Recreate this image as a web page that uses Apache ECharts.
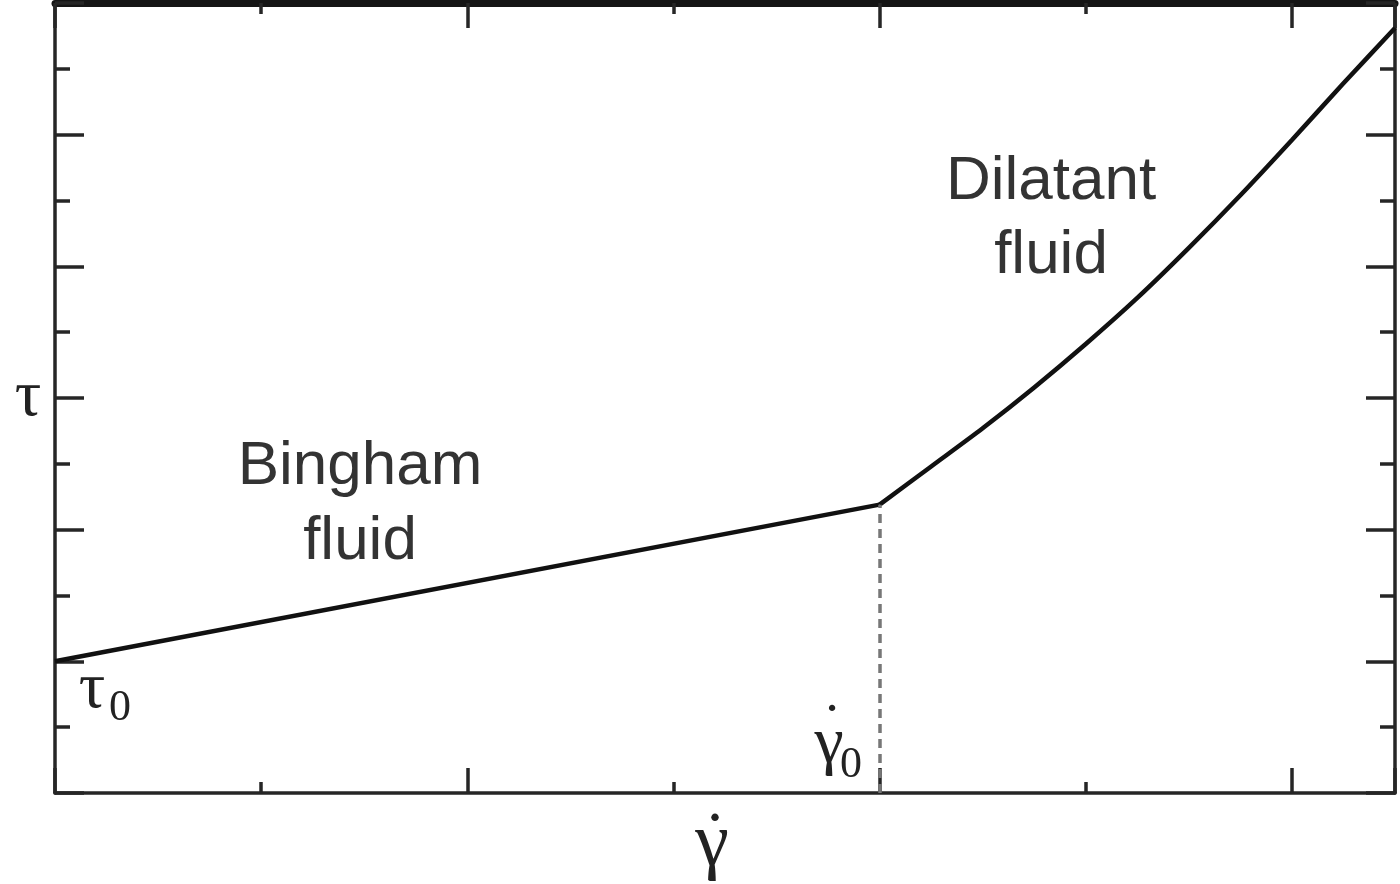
<!DOCTYPE html>
<html>
<head>
<meta charset="utf-8">
<script src="https://cdn.jsdelivr.net/npm/echarts@6/dist/echarts.min.js"></script>
<style>
  html, body { margin: 0; padding: 0; background: #fff; }
  #main { width: 1400px; height: 884px; }
</style>
</head>
<body>
<div id="main"></div>
<script>
// shear rate (x) vs shear stress (y), arbitrary units
const binghamX = [0, 4];
const binghamY = [1, 2.19];
const dilatantX = [4, 4.25, 4.5, 4.75, 5, 5.25, 5.5, 5.75, 6, 6.25, 6.5];
const dilatantY = [2.19, 2.48, 2.77, 3.08, 3.41, 3.76, 4.14, 4.54, 4.96, 5.39, 5.81];
const yieldRate = 4;      // gamma0
const yieldStress = 2.19; // stress at gamma0

const axisColor = '#262626';
const serif = '"Liberation Serif", "DejaVu Serif", serif';
const sans = '"Liberation Sans", Arial, sans-serif';

const chart = echarts.init(document.getElementById('main'));

function pair(xs, ys) {
  return xs.map((x, i) => [x, ys[i]]);
}

const xCommon = {
  type: 'value',
  min: 0, max: 6.5, interval: 2,
  splitLine: {show: false},
  axisLabel: {show: false},
  axisLine: {onZero: false, lineStyle: {color: axisColor, width: 3.5}},
  axisTick: {inside: true, length: 25, lineStyle: {color: axisColor, width: 3.5}},
  minorTick: {show: true, splitNumber: 2, length: 11, lineStyle: {color: axisColor, width: 3.5}}
};
const yCommon = {
  type: 'value',
  min: 0, max: 6, interval: 1,
  splitLine: {show: false},
  axisLabel: {show: false},
  axisLine: {onZero: false, lineStyle: {color: axisColor, width: 3.5}},
  axisTick: {inside: true, length: 29, lineStyle: {color: axisColor, width: 3.5}},
  minorTick: {show: true, splitNumber: 2, length: 15, lineStyle: {color: axisColor, width: 3.5}}
};

option = {
  backgroundColor: '#fff',
  animation: false,
  grid: {left: 55, right: 5, top: 3, bottom: 91},
  xAxis: [
    Object.assign({}, xCommon, {position: 'bottom'}),
    Object.assign({}, xCommon, {position: 'top', axisLine: {onZero: false, lineStyle: {color: '#151515', width: 7}}})
  ],
  yAxis: [
    Object.assign({}, yCommon, {position: 'left'}),
    Object.assign({}, yCommon, {position: 'right'})
  ],
  series: [
    {
      name: 'Bingham fluid',
      type: 'line',
      data: pair(binghamX, binghamY),
      showSymbol: false,
      lineStyle: {color: '#111', width: 4.5},
      markLine: {
        silent: true,
        symbol: 'none',
        label: {show: false},
        lineStyle: {color: '#777', width: 3.5, type: [9, 6]},
        data: [[{coord: [yieldRate, 0]}, {coord: [yieldRate, yieldStress]}]]
      }
    },
    {
      name: 'Dilatant fluid',
      type: 'line',
      data: pair(dilatantX, dilatantY),
      smooth: 0.25,
      showSymbol: false,
      lineStyle: {color: '#111', width: 4.5}
    }
  ],
  graphic: [
    {type: 'text', x: 360, y: 429, style: {text: 'Bingham\nfluid', font: '62px ' + sans, fill: '#333', align: 'center', lineHeight: 75}},
    {type: 'text', x: 1051, y: 145, style: {text: 'Dilatant\nfluid', font: '62px ' + sans, fill: '#333', align: 'center', lineHeight: 74}},
    // axis symbols
    {type: 'text', x: 28, y: 398, style: {text: 'τ', font: '66px ' + serif, fill: '#222', align: 'center', verticalAlign: 'middle'}},
    {type: 'text', x: 712, y: 845, style: {text: 'γ', font: '76px ' + serif, fill: '#222', align: 'center', verticalAlign: 'middle'}},
    {type: 'text', x: 715, y: 842, style: {text: '˙', font: '70px ' + serif, fill: '#222', align: 'center', verticalAlign: 'middle'}},
    {type: 'text', x: 92, y: 690, style: {text: 'τ', font: '66px ' + serif, fill: '#222', align: 'center', verticalAlign: 'middle'}},
    {type: 'text', x: 120, y: 708, style: {text: '0', font: '44px ' + serif, fill: '#222', align: 'center', verticalAlign: 'middle'}},
    {type: 'text', x: 829, y: 745, style: {text: 'γ', font: '66px ' + serif, fill: '#222', align: 'center', verticalAlign: 'middle'}},
    {type: 'text', x: 832, y: 728, style: {text: '˙', font: '60px ' + serif, fill: '#222', align: 'center', verticalAlign: 'middle'}},
    {type: 'text', x: 851, y: 765, style: {text: '0', font: '44px ' + serif, fill: '#222', align: 'center', verticalAlign: 'middle'}}
  ]
};

chart.setOption(option);
</script>
</body>
</html>
